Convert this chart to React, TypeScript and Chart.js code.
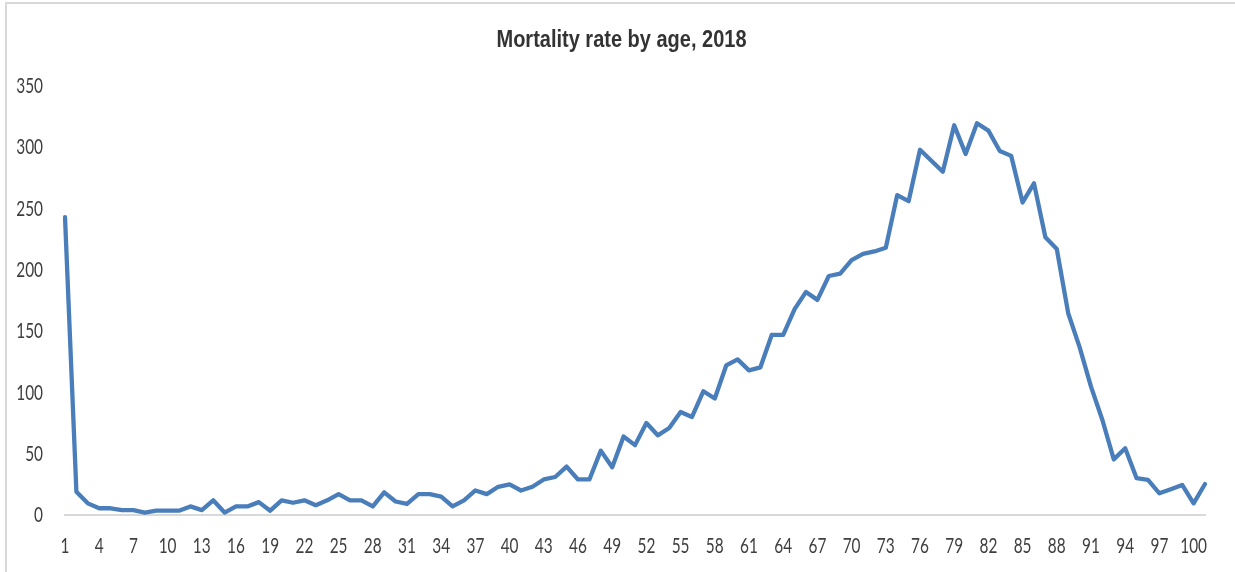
import React, { useEffect, useRef } from "react";
import { Chart, registerables } from "chart.js";

Chart.register(...registerables);

const ages: string[] = [
  "1", "2", "3", "4", "5", "6", "7", "8", "9", "10",
  "11", "12", "13", "14", "15", "16", "17", "18", "19", "20",
  "21", "22", "23", "24", "25", "26", "27", "28", "29", "30",
  "31", "32", "33", "34", "35", "36", "37", "38", "39", "40",
  "41", "42", "43", "44", "45", "46", "47", "48", "49", "50",
  "51", "52", "53", "54", "55", "56", "57", "58", "59", "60",
  "61", "62", "63", "64", "65", "66", "67", "68", "69", "70",
  "71", "72", "73", "74", "75", "76", "77", "78", "79", "80",
  "81", "82", "83", "84", "85", "86", "87", "88", "89", "90",
  "91", "92", "93", "94", "95", "96", "97", "98", "99", "100",
  "101",
];

const mortality: number[] = [
  243, 19, 9.5, 5.5, 5.5, 4, 4, 2, 3.5, 3.5,
  3.5, 7, 4, 12, 2, 7, 7, 10.5, 3.5, 12,
  10, 12, 8, 12, 17, 12, 12, 7, 18.5, 11,
  9, 17, 17, 15, 7, 12, 20, 17, 23, 25,
  20, 23, 29, 31, 39.5, 29, 29, 52.5, 39, 64,
  57, 75, 65, 71, 84, 80, 101, 95, 122, 127,
  118, 120.5, 147, 147, 168, 182, 175.5, 195, 197, 208,
  213, 215, 218, 261, 256, 298, 289, 280, 318, 294.6,
  319.6, 313.6, 297, 293, 255, 270.6, 226.6, 217, 164.6, 137,
  104.7, 77.5, 45.4, 54.4, 30, 28.6, 17.7, 21, 24.5, 9.5,
  25.3,
];

const yTicks: number[] = [0, 50, 100, 150, 200, 250, 300, 350];
const xTickEvery = 3;
const titleText = "Mortality rate by age, 2018";

const TICK_FONT = "22px Lato, 'Open Sans', sans-serif";
const TITLE_FONT = "bold 23px 'Liberation Sans', Arial, sans-serif";

function drawSqueezed(
  ctx: CanvasRenderingContext2D,
  text: string,
  x: number,
  y: number,
  sx: number
) {
  ctx.save();
  ctx.translate(x, y);
  ctx.scale(sx, 1);
  ctx.fillText(text, 0, 0);
  ctx.restore();
}

const squeezedText = {
  id: "squeezedText",
  afterDraw(chart: any) {
    const ctx: CanvasRenderingContext2D = chart.ctx;
    const xs = chart.scales.x;
    const ys = chart.scales.y;
    const area = chart.chartArea;
    ctx.save();
    ctx.fillStyle = "#3f3f3f";
    ctx.font = TICK_FONT;
    ctx.textBaseline = "middle";
    ctx.textAlign = "right";
    yTicks.forEach((v) => {
      drawSqueezed(ctx, String(v), area.left - 22, ys.getPixelForValue(v), 0.7);
    });
    ctx.textAlign = "center";
    ages.forEach((a, i) => {
      if (i % xTickEvery !== 0) return;
      drawSqueezed(ctx, a, xs.getPixelForValue(i), area.bottom + 31, 0.7);
    });
    ctx.font = TITLE_FONT;
    ctx.fillStyle = "#333333";
    const w = ctx.measureText(titleText).width;
    drawSqueezed(ctx, titleText, chart.width / 2 + 4, 41, 250 / w);
    ctx.restore();
  },
};

export default function App() {
  const ref = useRef<HTMLCanvasElement | null>(null);

  useEffect(() => {
    document.body.style.margin = "0";
    if (!ref.current) return;
    const chart = new Chart(ref.current, {
      type: "line",
      data: {
        labels: ages,
        datasets: [
          {
            label: "Mortality rate",
            data: mortality,
            borderColor: "#4a7ebb",
            borderWidth: 4.3,
            pointRadius: 0,
            tension: 0,
            fill: false,
            borderJoinStyle: "round",
            borderCapStyle: "round",
          },
        ],
      },
      options: {
        animation: false,
        responsive: false,
        maintainAspectRatio: false,
        layout: { padding: { left: 0, right: 30, top: 86, bottom: 0 } },
        plugins: {
          legend: { display: false },
          tooltip: { enabled: false },
          title: { display: false },
        },
        scales: {
          x: {
            type: "category",
            offset: false,
            grid: { display: false, drawTicks: false },
            border: { display: true, color: "#d9d9d9", width: 2 },
            ticks: { display: false },
            afterFit: (s: any) => {
              s.height = 57;
            },
          },
          y: {
            min: yTicks[0],
            max: yTicks[yTicks.length - 1],
            grid: { display: false, drawTicks: false },
            border: { display: false },
            afterBuildTicks: (s: any) => {
              s.ticks = yTicks.map((v) => ({ value: v }));
            },
            ticks: { display: false },
            afterFit: (s: any) => {
              s.width = 65;
            },
          },
        },
      },
      plugins: [squeezedText],
    });
    return () => chart.destroy();
  }, []);

  return (
    <div
      style={{
        position: "fixed",
        left: 0,
        top: 0,
        width: 1235,
        height: 572,
        background: "#ffffff",
        overflow: "hidden",
      }}
    >
      <div
        style={{
          position: "absolute",
          left: 5,
          top: 2,
          width: 1300,
          height: 600,
          borderTop: "2px solid #d9d9d9",
          borderLeft: "2px solid #d9d9d9",
          boxSizing: "border-box",
        }}
      />
      <canvas
        ref={ref}
        width={1235}
        height={572}
        style={{ position: "absolute", left: 0, top: 0, width: 1235, height: 572 }}
      />
    </div>
  );
}
